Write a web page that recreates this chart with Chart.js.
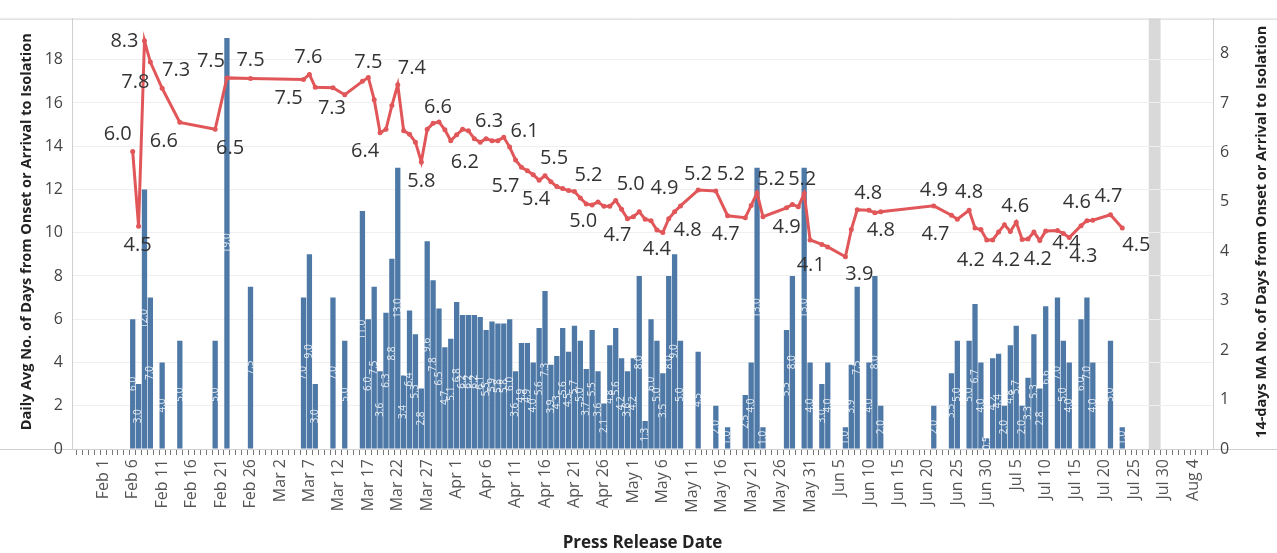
<!DOCTYPE html>
<html>
<head>
<meta charset="utf-8">
<script src="https://cdn.jsdelivr.net/npm/chart.js@4.4.1/dist/chart.umd.min.js"></script>
<style>
  html, body { margin: 0; padding: 0; background: #fff; }
</style>
</head>
<body>
<canvas id="chart" width="1277" height="553"></canvas>
<script>
// Press release dates (2020, M/D) that have a reading
const dates = [
    '2/6', '2/7', '2/8', '2/9', '2/11', '2/14', '2/20', '2/22', '2/26',
    '3/6', '3/7', '3/8', '3/11', '3/13',
    '3/16', '3/17', '3/18', '3/19', '3/20', '3/21', '3/22', '3/23', '3/24', '3/25', '3/26', '3/27', '3/28', '3/29', '3/30', '3/31',
    '4/1', '4/2', '4/3', '4/4', '4/5', '4/6', '4/7', '4/8', '4/9', '4/10', '4/11', '4/12', '4/13', '4/14', '4/15',
    '4/16', '4/17', '4/18', '4/19', '4/20', '4/21', '4/22', '4/23', '4/24', '4/25', '4/26', '4/27', '4/28', '4/29', '4/30',
    '5/1', '5/2', '5/3', '5/4', '5/5', '5/6', '5/7', '5/8', '5/9', '5/12', '5/15', '5/17', '5/20', '5/21', '5/22', '5/23',
    '5/27', '5/28', '5/29', '5/30', '5/31',
    '6/2', '6/3', '6/6', '6/7', '6/8', '6/10', '6/11', '6/12', '6/21', '6/24', '6/25', '6/27', '6/28', '6/29', '6/30',
    '7/1', '7/2', '7/3', '7/4', '7/5', '7/6', '7/7', '7/8', '7/9', '7/10', '7/12', '7/13', '7/14', '7/16', '7/17', '7/18',
    '7/21', '7/23'
];

// Daily avg no. of days from onset or arrival to isolation (bars, left axis)
const dailyAvg = [
    6.0, 3.0, 12.0, 7.0, 4.0, 5.0, 5.0, 19.0, 7.5,
    7.0, 9.0, 3.0, 7.0, 5.0,
    11.0, 6.0, 7.5, 3.6, 6.3, 8.8, 13.0, 3.4, 6.4, 5.3, 2.8, 9.6, 7.8, 6.5, 4.7, 5.1,
    6.8, 6.2, 6.2, 6.2, 6.1, 5.5, 5.9, 5.8, 5.8, 6.0, 3.6, 4.9, 4.9, 4.0, 5.6,
    7.3, 3.9, 4.3, 5.6, 4.5, 5.7, 5.0, 3.7, 5.5, 3.6, 2.1, 4.8, 5.6, 4.2, 3.6,
    4.2, 8.0, 1.3, 6.0, 5.0, 3.5, 8.0, 9.0, 5.0, 4.5, 2.0, 1.0, 2.5, 4.0, 13.0, 1.0,
    5.5, 8.0, null, 13.0, 4.0,
    3.0, 4.0, 1.0, 3.9, 7.5, 4.0, 8.0, 2.0, 2.0, 3.5, 5.0, 5.0, 6.7, 4.0, 0.5,
    4.2, 4.4, 2.0, 4.8, 5.7, 2.0, 3.3, 5.3, 2.8, 6.6, 7.0, 5.0, 4.0, 6.0, 7.0, 4.0,
    5.0, 1.0
];

// 14-days moving average (line, right axis)
const ma14 = [
    6.02, 4.51, 8.26, 7.83, 7.30, 6.61, 6.47, 7.51, 7.50,
    7.48, 7.58, 7.32, 7.31, 7.17,
    7.44, 7.52, 7.07, 6.40, 6.47, 6.95, 7.37, 6.44, 6.37, 6.21, 5.81, 6.47, 6.59, 6.62, 6.46, 6.24,
    6.36, 6.47, 6.44, 6.28, 6.21, 6.28, 6.24, 6.24, 6.31, 6.11, 5.85, 5.70, 5.63, 5.55, 5.44,
    5.53, 5.41, 5.31, 5.27, 5.23, 5.21, 5.08, 4.96, 4.94, 5.00, 4.91, 4.91, 5.03, 4.85, 4.66,
    4.70, 4.80, 4.65, 4.62, 4.43, 4.38, 4.66, 4.80, 4.92, 5.24, 5.22, 4.72, 4.68, 4.93, 5.18, 4.70,
    4.88, 4.95, 4.90, 5.17, 4.23,
    4.14, 4.09, 3.89, 4.44, 4.84, 4.83, 4.78, 4.80, 4.92, 4.73, 4.65, 4.83, 4.47, 4.44, 4.23,
    4.23, 4.39, 4.54, 4.40, 4.59, 4.24, 4.25, 4.39, 4.22, 4.41, 4.42, 4.36, 4.28, 4.52, 4.62, 4.63,
    4.74, 4.47
];

// which MA points carry a value label, with the label offset from the point
const maLabels = [
    ['2/6', -15, -17], ['2/7', -1, 19], ['2/8', -20, 0], ['2/9', -15, 20], ['2/11', 14, -18],
    ['2/14', -16, 19], ['2/20', 15, 19], ['2/22', -16, -17], ['2/26', 0, -18], ['3/6', -15, 19],
    ['3/7', -1, -17], ['3/11', -1, 21], ['3/17', 0, -15], ['3/19', -15, 19], ['3/22', 14, -17],
    ['3/26', 0, 19], ['3/29', -1, -15], ['3/31', 14, 22], ['4/6', 3, -17], ['4/10', 15, -16],
    ['4/12', -16, 19], ['4/15', -3, 19], ['4/16', 9, -17], ['4/21', 14, -16], ['4/23', -3, 17],
    ['4/28', 15, -16], ['4/30', -10, 17], ['5/6', -6, 17], ['5/9', -16, -18], ['5/8', 13, 18],
    ['5/12', 0, -16], ['5/15', 15, -17], ['5/17', -2, 19], ['5/22', 14, -14], ['5/30', -2, -14],
    ['5/27', 0, 19], ['6/3', -17, 18], ['6/6', 14, 18], ['6/8', 11, -17], ['6/11', 6, 17],
    ['6/21', 0, -16], ['6/24', -16, 19], ['6/27', 0, -18], ['6/30', -16, 20], ['7/5', -1, -16],
    ['7/6', -16, 21], ['7/9', -2, 19], ['7/13', 3, 10], ['7/14', 14, 19], ['7/17', -10, -18],
    ['7/21', -2, -18], ['7/23', 14, 17]
];

// grey highlighted days at the right end
const bandDates = ['7/28', '7/29'];

const monthNames = ['Jan', 'Feb', 'Mar', 'Apr', 'May', 'Jun', 'Jul', 'Aug', 'Sep', 'Oct', 'Nov', 'Dec'];
const day0 = new Date(2020, 1, 1);

function dayIndex(s) {
    const [m, d] = s.split('/').map(Number);
    return Math.round((new Date(2020, m - 1, d) - day0) / 86400000);
}

function dayLabel(i) {
    const dt = new Date(2020, 1, 1 + i);
    return monthNames[dt.getMonth()] + ' ' + dt.getDate();
}

const barPoints = [];
dates.forEach((s, i) => {
    if (dailyAvg[i] !== null) barPoints.push({ x: dayIndex(s), y: dailyAvg[i] });
});
const linePoints = dates.map((s, i) => ({ x: dayIndex(s), y: ma14[i] }));

const FONT = '"Open Sans", "Noto Sans", sans-serif';
const BLUE = '#4e79a7';
const RED = '#e15759';

// frame lines across the full width and the grey band
const framePlugin = {
    id: 'frame',
    beforeDraw(chart) {
        const { ctx, chartArea, scales } = chart;
        const x0 = scales.x.getPixelForValue(dayIndex(bandDates[0]) - 0.5);
        const x1 = scales.x.getPixelForValue(dayIndex(bandDates[1]) + 0.5);
        ctx.save();
        ctx.fillStyle = '#d9d9d9';
        ctx.fillRect(x0, chartArea.top, x1 - x0, chartArea.bottom - chartArea.top);
        ctx.strokeStyle = '#d0d0d0';
        ctx.lineWidth = 1;
        ctx.beginPath();
        ctx.moveTo(0, chartArea.top + 0.5);
        ctx.lineTo(chart.width, chartArea.top + 0.5);
        ctx.moveTo(0, chartArea.bottom + 0.5);
        ctx.lineTo(chart.width, chartArea.bottom + 0.5);
        ctx.stroke();
        ctx.restore();
    }
};

// white rotated values inside the bars
const barLabelPlugin = {
    id: 'barLabels',
    afterDatasetDraw(chart, args) {
        if (args.index !== 0) return;
        const { ctx } = chart;
        ctx.save();
        ctx.font = '10px ' + FONT;
        ctx.fillStyle = 'rgba(255,255,255,0.85)';
        ctx.textAlign = 'center';
        ctx.textBaseline = 'middle';
        args.meta.data.forEach((bar, i) => {
            const v = barPoints[i].y;
            ctx.save();
            ctx.translate(bar.x, (bar.y + bar.base) / 2);
            ctx.rotate(-Math.PI / 2);
            ctx.fillText(v.toFixed(1), 0, 0);
            ctx.restore();
        });
        ctx.restore();
    }
};

// value labels on the MA line
const maLabelPlugin = {
    id: 'maLabels',
    afterDatasetsDraw(chart) {
        const { ctx } = chart;
        const meta = chart.getDatasetMeta(1);
        ctx.save();
        ctx.font = '20px ' + FONT;
        ctx.fillStyle = '#333333';
        ctx.textAlign = 'center';
        ctx.textBaseline = 'middle';
        maLabels.forEach(([s, dx, dy]) => {
            const i = dates.indexOf(s);
            const pt = meta.data[i];
            ctx.fillText(ma14[i].toFixed(1), pt.x + dx, pt.y + dy);
        });
        ctx.restore();
    }
};

// axis titles (both vertical titles read bottom to top)
const titlePlugin = {
    id: 'titles',
    afterDraw(chart) {
        const { ctx, chartArea } = chart;
        const midY = (chartArea.top + chartArea.bottom) / 2 - 2;
        ctx.save();
        ctx.fillStyle = '#222222';
        ctx.textAlign = 'center';
        ctx.textBaseline = 'middle';
        ctx.font = 'bold 14.5px ' + FONT;
        ctx.save();
        ctx.translate(27, midY);
        ctx.rotate(-Math.PI / 2);
        ctx.fillText('Daily Avg No. of Days from Onset or Arrival to Isolation', 0, 0);
        ctx.restore();
        ctx.save();
        ctx.translate(1262, midY);
        ctx.rotate(-Math.PI / 2);
        ctx.fillText('14-days MA No. of Days from Onset or Arrival to Isolation', 0, 0);
        ctx.restore();
        ctx.font = 'bold 17px ' + FONT;
        ctx.fillText('Press Release Date', (chartArea.left + chartArea.right) / 2, 543);
        ctx.restore();
    }
};

const ctx = document.getElementById('chart').getContext('2d');
const chart = new Chart(ctx, {
    type: 'bar',
    data: {
        datasets: [{
            type: 'bar',
            label: 'Daily Avg',
            data: barPoints,
            backgroundColor: BLUE,
            barPercentage: 0.9,
            categoryPercentage: 1.0,
            yAxisID: 'y',
            order: 1
        }, {
            type: 'line',
            label: '14-days MA',
            data: linePoints,
            borderColor: RED,
            backgroundColor: RED,
            borderWidth: 3,
            pointRadius: 2.5,
            pointBorderWidth: 0,
            tension: 0,
            yAxisID: 'y1',
            order: 0
        }]
    },
    options: {
        responsive: false,
        animation: false,
        devicePixelRatio: 1,
        layout: { padding: { top: 11, left: 0, right: 0, bottom: 0 } },
        plugins: {
            legend: { display: false },
            tooltip: { enabled: false }
        },
        scales: {
            x: {
                type: 'linear',
                min: -4.8,
                max: 187.9,
                afterFit: s => { s.height = 104; },
                grid: { drawOnChartArea: false, tickLength: 6, color: '#777777' },
                border: { color: '#d0d0d0' },
                ticks: {
                    stepSize: 1,
                    autoSkip: false,
                    includeBounds: false,
                    minRotation: 90,
                    maxRotation: 90,
                    padding: 4,
                    color: '#555555',
                    font: { family: FONT, size: 16 },
                    callback: v => (v >= 0 && v % 5 === 0) ? dayLabel(v) : ''
                }
            },
            y: {
                position: 'left',
                min: 0,
                max: 19.9,
                afterFit: s => { s.width = 72; },
                grid: { color: '#efefef', drawTicks: false },
                border: { color: '#d0d0d0' },
                ticks: {
                    stepSize: 2,
                    includeBounds: false,
                    padding: 9,
                    color: '#444444',
                    font: { family: FONT, size: 16 }
                }
            },
            y1: {
                position: 'right',
                min: 0,
                max: 8.71,
                afterFit: s => { s.width = 64; },
                grid: { drawOnChartArea: false, drawTicks: false },
                border: { color: '#d0d0d0' },
                ticks: {
                    stepSize: 1,
                    includeBounds: false,
                    padding: 7,
                    color: '#444444',
                    font: { family: FONT, size: 16 }
                }
            }
        }
    },
    plugins: [framePlugin, barLabelPlugin, maLabelPlugin, titlePlugin]
});
</script>
</body>
</html>
